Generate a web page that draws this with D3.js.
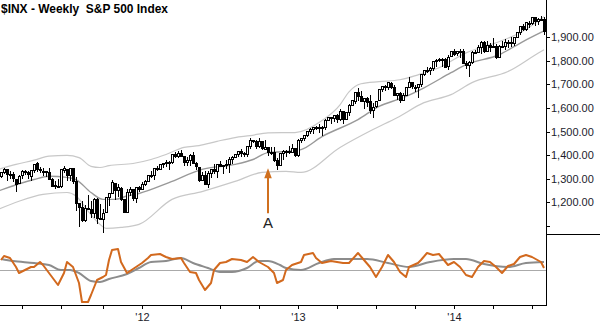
<!DOCTYPE html>
<html><head><meta charset="utf-8">
<script src="https://cdn.jsdelivr.net/npm/d3@7"></script>
<style>body{margin:0;background:#fff}svg{display:block}</style>
</head><body>
<svg id="chart" width="600" height="324"></svg>
<script>
// ---------- DATA ----------
const title = "$INX - Weekly  S&P 500 Index";
const firstWeek = "2011-01-31";   // Monday of first weekly bar

const open = [
 1276,1311,1329,1340,1321,1322,1301,1281,1315,1333,1329,1313,1337,1365,1340,1334,1333,1331,1300,1272,1271,1268,1339,1343,1315,1344,1292,1198,1179,1124,1177,1173,1153,1214,1136,1131,1158,1224,1238,1284,1253,1263,1215,1159,1244,1255,1219,1265,
 1258,1277,1290,1315,1316,1345,1343,1361,1366,1369,1371,1404,1397,1408,1397,1370,1378,1403,1368,1351,1296,1318,1278,1325,1342,1334,1362,1354,1357,1362,1386,1391,1405,1418,1411,1406,1438,1466,1460,1441,1461,1428,1433,1410,1414,1380,1360,1409,1416,1418,1413,1430,
 1402,1466,1472,1486,1503,1513,1518,1520,1516,1518,1551,1560,1557,1569,1553,1588,1555,1582,1614,1632,1666,1652,1631,1644,1630,1590,1609,1634,1680,1693,1690,1708,1688,1656,1662,1635,1656,1691,1711,1687,1688,1702,1745,1759,1763,1769,1798,1806,1806,1806,1777,1819,1842,
 1832,1842,1841,1791,1783,1797,1839,1836,1857,1878,1842,1867,1858,1863,1816,1865,1864,1880,1879,1876,1902,1923,1949,1937,1962,1961,1985,1967,1979,1979];
const high = [
 1311,1330,1344,1340,1335,1327,1301,1315,1337,1339,1333,1338,1364,1370,1350,1347,1334,1346,1303,1292,1298,1341,1356,1343,1347,1345,1307,1199,1208,1190,1230,1204,1220,1220,1195,1171,1224,1239,1293,1284,1277,1266,1215,1255,1267,1255,1265,1270,
 1285,1296,1315,1333,1345,1354,1363,1368,1378,1374,1405,1414,1419,1422,1397,1392,1406,1415,1372,1351,1328,1335,1335,1343,1364,1362,1375,1357,1380,1391,1395,1405,1419,1426,1414,1438,1475,1466,1463,1471,1461,1464,1435,1434,1433,1388,1409,1421,1423,1438,1448,1430,
 1467,1472,1485,1503,1514,1518,1524,1531,1525,1552,1564,1563,1570,1573,1597,1588,1585,1618,1634,1667,1687,1674,1644,1649,1655,1620,1632,1680,1693,1698,1709,1709,1696,1664,1670,1664,1689,1730,1711,1696,1704,1745,1760,1775,1774,1798,1806,1813,1811,1811,1823,1844,1849,
 1843,1851,1850,1799,1798,1841,1847,1867,1883,1883,1883,1875,1897,1873,1869,1884,1891,1888,1902,1901,1924,1949,1955,1963,1968,1985,1985,1983,1991,1984];
const low = [
 1274,1307,1324,1294,1303,1291,1249,1281,1305,1321,1302,1294,1331,1332,1330,1318,1311,1300,1268,1262,1267,1267,1331,1295,1295,1282,1168,1101,1122,1121,1174,1140,1137,1114,1131,1075,1158,1191,1238,1215,1226,1209,1158,1159,1231,1209,1203,1248,
 1258,1275,1290,1306,1300,1337,1340,1352,1355,1340,1368,1392,1391,1397,1357,1358,1358,1367,1343,1292,1295,1277,1267,1306,1324,1309,1354,1325,1345,1329,1365,1391,1397,1398,1397,1396,1430,1455,1430,1437,1425,1428,1403,1405,1377,1343,1360,1385,1398,1411,1413,1398,
 1398,1456,1464,1482,1496,1495,1513,1498,1485,1512,1548,1538,1546,1539,1548,1536,1554,1570,1613,1623,1635,1630,1599,1608,1577,1560,1605,1633,1672,1676,1681,1684,1654,1639,1627,1633,1656,1691,1687,1674,1646,1692,1740,1752,1746,1761,1780,1800,1779,1772,1767,1819,1827,
 1823,1815,1790,1770,1738,1791,1832,1836,1834,1839,1840,1842,1858,1814,1816,1859,1851,1859,1862,1868,1902,1915,1929,1930,1944,1958,1952,1955,1973,1916];
const close = [
 1311,1329,1343,1320,1321,1304,1279,1314,1332,1328,1320,1337,1364,1340,1338,1333,1331,1300,1271,1272,1268,1340,1344,1316,1345,1292,1199,1179,1124,1177,1174,1154,1216,1136,1131,1155,1225,1238,1285,1253,1264,1216,1159,1244,1255,1220,1265,1258,
 1278,1289,1315,1316,1345,1343,1361,1366,1370,1371,1404,1397,1408,1398,1370,1379,1403,1369,1353,1295,1318,1278,1326,1343,1335,1362,1355,1357,1363,1386,1391,1406,1418,1411,1407,1438,1466,1460,1441,1461,1429,1433,1412,1414,1380,1360,1409,1416,1418,1414,1430,1402,
 1466,1472,1486,1503,1513,1518,1520,1516,1518,1551,1561,1557,1569,1553,1589,1555,1582,1614,1634,1667,1650,1631,1643,1627,1592,1606,1632,1680,1692,1692,1710,1691,1656,1664,1633,1655,1688,1710,1692,1691,1703,1745,1760,1762,1771,1798,1805,1806,1805,1775,1818,1841,1831,
 1842,1839,1790,1783,1797,1839,1836,1859,1878,1841,1867,1858,1865,1816,1865,1863,1881,1878,1878,1901,1924,1949,1936,1963,1961,1985,1968,1978,1978,1925];

// moving average (middle) and envelope bands, read at sample weeks
const midWeek  = [0,12,17,23,26,31,35,39,43,47,57,68,79,85,90,96,101,108,120,127,135,142,151,156,167,175,182];
const midVal   = [1248,1297,1311,1306,1297,1242,1213,1213,1227,1238,1284,1340,1361,1382,1411,1416,1424,1479,1551,1607,1644,1686,1750,1784,1826,1882,1927];
const upWeek   = [0,6,12,17,23,27,31,34,37,45,51,56,62,67,73,79,84,90,99,108,114,117,121,127,134,140,147,156,167,174,182];
const upVal    = [1340,1361,1379,1396,1399,1390,1353,1348,1356,1365,1382,1403,1433,1441,1459,1475,1483,1495,1496,1547,1614,1669,1703,1712,1720,1741,1771,1834,1881,1919,1987];
const loWeek   = [0,7,15,23,26,30,34,36,41,47,58,68,79,88,96,101,114,125,133,142,151,158,170,181,182];
const loVal    = [1170,1205,1234,1242,1227,1163,1107,1090,1094,1107,1213,1246,1289,1327,1332,1327,1433,1509,1559,1623,1657,1708,1755,1840,1847];

// oscillator (lower panel)
const oscWeek = [1,2,4,6,7,9,11,12,14,15,17,20,22,23,25,27,28,30,31,33,35,36,37,38,40,41,43,45,46,48,50,51,54,56,58,61,62,64,66,67,69,71,72,74,76,78,81,83,85,87,90,92,93,95,96,98,101,102,105,106,108,111,113,115,117,120,122,124,126,128,130,132,134,136,137,140,141,143,145,147,150,152,154,156,158,160,162,164,166,168,170,172,174,176,178,181,182];
const oscVal  = [1.0,1.4,1.2,0.3,-0.3,0,0.3,0.3,0.8,0.5,-0.3,-1.5,-0.3,0.8,0.3,-1.3,-3.2,-3.2,-2.5,-1.0,-0.7,-0.5,1.0,2.0,2.1,0.8,-0.3,0.1,0.3,0.7,1.2,1.5,1.6,1.3,1.1,1.2,0.7,-0.2,-0.3,-1.0,-2.0,-1.3,0,0.7,0.8,1.1,1.0,0.8,1.3,0.8,0.3,-0.3,-1.3,-1.0,0,0.5,0.8,1.5,1.7,1.2,0.7,0.9,0.8,0.7,0.7,1.7,1.0,0.3,-0.7,0.3,1.5,0.8,-0.2,-0.7,0.3,0.7,1.0,1.7,1.5,1.6,0.5,0.8,0.3,-0.5,-0.7,0.3,0.9,0.8,0.3,-0.3,0.4,0.6,1.3,1.5,1.3,0.8,0.2];
const sigWeek = [1,5,12,17,21,24,27,31,34,37,43,47,51,56,61,65,70,74,78,83,87,90,94,96,101,107,112,123,130,137,144,152,156,162,170,176,182];
const sigVal  = [1.1,0.9,0.7,0.5,0,0,-0.3,-1.1,-1.2,-0.9,-0.4,0.2,0.8,0.9,1.2,0.7,0.2,-0.2,-0.2,0.2,0.9,0.9,0.5,0.2,0,0.7,1.1,1.1,0.7,0.3,0.8,1.1,1.1,0.6,0.3,0.7,0.8];

const yTickValues = [1100,1200,1300,1400,1500,1600,1700,1800,1900];
const yLabelValues = [1200,1300,1400,1500,1600,1700,1800,1900];

const annotWeek = 90, annotPrice = 1345, annotLabel = "A";

// ---------- DRAW ----------
const svg = d3.select("#chart");
const W = 600, H = 324, axisX = 546, priceBottom = 234, oscBottom = 305;
const N = close.length;
const start = new Date(firstWeek + "T00:00:00Z");

const x = d3.scaleLinear().domain([0, N - 1]).range([-2, -2 + 3 * (N - 1)]);
const y = d3.scaleLinear().domain([1100, 1900]).range([226, 37.3]);
const yo = d3.scaleLinear().domain([-3.5, 3.5]).range([oscBottom, 235]);

const defs = svg.append("defs");
defs.append("clipPath").attr("id", "cp").append("rect").attr("x", 0).attr("y", 0).attr("width", axisX).attr("height", priceBottom);
defs.append("clipPath").attr("id", "co").append("rect").attr("x", 0).attr("y", priceBottom).attr("width", axisX).attr("height", oscBottom - priceBottom);

const pricePanel = svg.append("g").attr("clip-path", "url(#cp)");

const bandLine = d3.line().x(d => x(d[0])).y(d => y(d[1])).curve(d3.curveMonotoneX);
pricePanel.append("path").datum(d3.zip(upWeek, upVal)).attr("d", bandLine)
  .attr("fill", "none").attr("stroke", "#c8c8c8").attr("stroke-width", 1.2);
pricePanel.append("path").datum(d3.zip(loWeek, loVal)).attr("d", bandLine)
  .attr("fill", "none").attr("stroke", "#c8c8c8").attr("stroke-width", 1.2);
pricePanel.append("path").datum(d3.zip(midWeek, midVal)).attr("d", bandLine)
  .attr("fill", "none").attr("stroke", "#999").attr("stroke-width", 1.4);

// candles
const candles = pricePanel.append("g");
d3.range(N).forEach(i => {
  const left = Math.round(x(i)) - 1;
  const o = open[i], c = close[i];
  const top = Math.round(y(Math.max(o, c))), bot = Math.round(y(Math.min(o, c)));
  candles.append("line").attr("x1", left + 1.5).attr("x2", left + 1.5)
    .attr("y1", Math.round(y(high[i]))).attr("y2", Math.round(y(low[i])) + 1)
    .attr("stroke", "#000").attr("stroke-width", 1);
  if (c >= o) {
    candles.append("rect").attr("x", left + 0.5).attr("y", top + 0.5)
      .attr("width", 2).attr("height", Math.max(bot - top, 1))
      .attr("fill", "#fff").attr("stroke", "#000").attr("stroke-width", 1);
  } else {
    candles.append("rect").attr("x", left).attr("y", top)
      .attr("width", 3).attr("height", Math.max(bot - top + 1, 2))
      .attr("fill", "#000");
  }
});

// annotation arrow
const ax = x(annotWeek), ay = y(annotPrice);
svg.append("line").attr("x1", ax).attr("x2", ax).attr("y1", ay + 8).attr("y2", ay + 45)
  .attr("stroke", "#d0701f").attr("stroke-width", 2);
svg.append("path").attr("d", `M${ax},${ay} L${ax + 3.8},${ay + 10} L${ax - 3.8},${ay + 10} Z`).attr("fill", "#d0701f");
svg.append("text").attr("x", ax).attr("y", ay + 60).attr("text-anchor", "middle")
  .attr("font-family", "Liberation Sans, Arial, sans-serif").attr("font-size", 15).attr("fill", "#222")
  .text(annotLabel);

// oscillator
const oscPanel = svg.append("g").attr("clip-path", "url(#co)");
oscPanel.append("line").attr("x1", 0).attr("x2", axisX).attr("y1", Math.round(yo(0)) + 0.5).attr("y2", Math.round(yo(0)) + 0.5)
  .attr("stroke", "#aaa").attr("stroke-width", 1);
const sigLine = d3.line().x(d => x(d[0])).y(d => yo(d[1])).curve(d3.curveMonotoneX);
const oscLine = d3.line().x(d => x(d[0])).y(d => yo(d[1])).curve(d3.curveLinear);
oscPanel.append("path").datum(d3.zip(sigWeek, sigVal)).attr("d", sigLine)
  .attr("fill", "none").attr("stroke", "#8c8c8c").attr("stroke-width", 2);
oscPanel.append("path").datum(d3.zip(oscWeek, oscVal)).attr("d", oscLine)
  .attr("fill", "none").attr("stroke", "#d2691e").attr("stroke-width", 2).attr("stroke-linejoin", "round");

// frame lines
svg.append("line").attr("x1", axisX + 0.5).attr("x2", axisX + 0.5).attr("y1", 0).attr("y2", oscBottom + 1).attr("stroke", "#000");
svg.append("line").attr("x1", 0).attr("x2", axisX + 1).attr("y1", oscBottom + 0.5).attr("y2", oscBottom + 0.5).attr("stroke", "#000");
svg.append("line").attr("x1", axisX).attr("x2", W).attr("y1", priceBottom + 0.5).attr("y2", priceBottom + 0.5).attr("stroke", "#000");

// right price axis
const yAxis = svg.append("g");
yTickValues.forEach(v => {
  const ty = Math.round(y(v)) + 0.5;
  yAxis.append("line").attr("x1", axisX).attr("x2", axisX + 4).attr("y1", ty).attr("y2", ty).attr("stroke", "#000");
});
yLabelValues.forEach(v => {
  yAxis.append("text").attr("x", axisX + 5).attr("y", y(v)).attr("dy", "0.35em")
    .attr("font-family", "Liberation Sans, Arial, sans-serif").attr("font-size", 11).attr("fill", "#1c1c2c")
    .text(d3.format(",.2f")(v));
});

// bottom time axis: quarter ticks at bar holding first trading day
const quarters = d3.utcMonth.every(3).range(new Date("2011-01-01T00:00:00Z"), new Date("2014-10-01T00:00:00Z"));
const xAxis = svg.append("g");
quarters.forEach(q => {
  let d = q;
  while (d.getUTCDay() === 0 || d.getUTCDay() === 6) d = d3.utcDay.offset(d, 1);
  const idx = Math.round((d3.utcMonday.floor(d) - start) / (7 * 864e5));
  if (idx < 0 || idx >= N) return;
  const tx = Math.round(x(idx)) + 0.5;
  xAxis.append("line").attr("x1", tx).attr("x2", tx).attr("y1", oscBottom).attr("y2", oscBottom + 4).attr("stroke", "#000");
  if (q.getUTCMonth() === 0) {
    xAxis.append("text").attr("x", tx).attr("y", 317).attr("dy", "0.35em").attr("text-anchor", "middle")
      .attr("font-family", "Liberation Sans, Arial, sans-serif").attr("font-size", 11).attr("fill", "#1c1c2c")
      .text("'" + d3.utcFormat("%y")(q));
  }
});

// title
svg.append("text").attr("x", 1).attr("y", 13).style("white-space", "pre")
  .attr("font-family", "Liberation Sans, Arial, sans-serif").attr("font-weight", "bold").attr("font-size", 12.5)
  .attr("textLength", 167).attr("lengthAdjust", "spacingAndGlyphs").attr("fill", "#000")
  .text(title);
</script>
</body></html>
